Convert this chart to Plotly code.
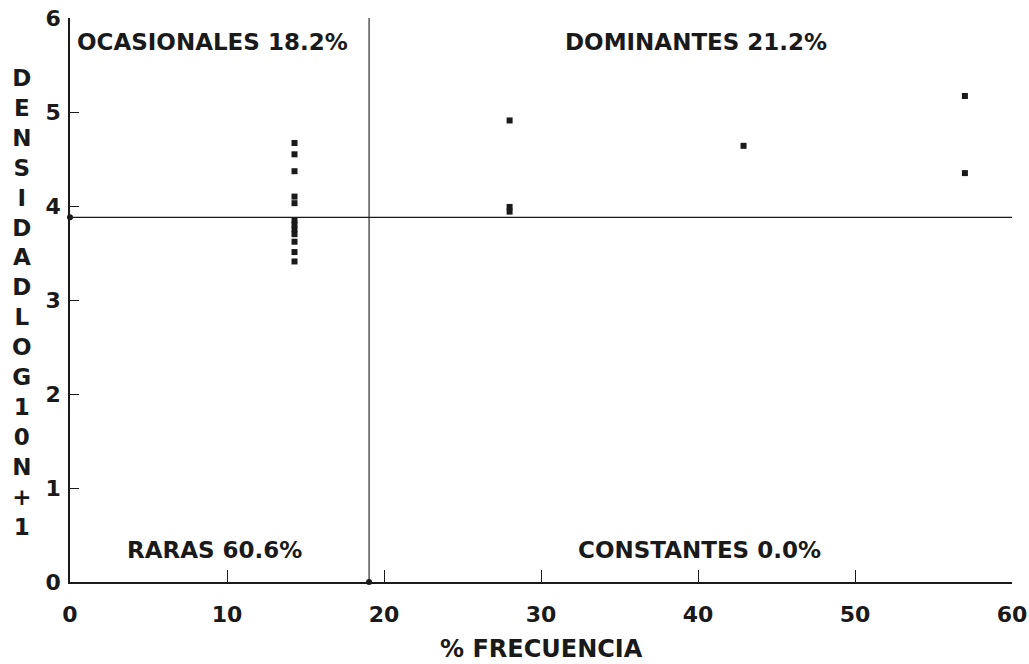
import plotly.graph_objects as go

# Data
frecuencia = [14.3]*12 + [28.0, 28.0, 28.0, 42.9, 57.0, 57.0]
densidad = [4.67, 4.55, 4.37, 4.10, 4.03, 3.85, 3.80, 3.75, 3.70, 3.62, 3.51, 3.41,
            4.91, 3.99, 3.94, 4.64, 5.17, 4.35]
media_frecuencia = 19.05
media_densidad = 3.88
quadrant_labels = ["OCASIONALES 18.2%", "DOMINANTES 21.2%", "RARAS 60.6%", "CONSTANTES 0.0%"]
quadrant_x = [9.05, 39.9, 9.2, 40.1]
quadrant_y = [5.74, 5.74, 0.34, 0.34]
x_ticks = [0, 10, 20, 30, 40, 50, 60]
y_ticks = [0, 1, 2, 3, 4, 5, 6]
y_title = "DENSIDAD LOG10 N+1"
x_title = "% FRECUENCIA"

INK = "#1a1a1a"
FONT = "DejaVu Sans, Liberation Sans, Arial, sans-serif"

fig = go.Figure()
fig.add_trace(go.Scatter(x=frecuencia, y=densidad, mode="markers",
                         marker=dict(symbol="square", size=6, color=INK),
                         showlegend=False, cliponaxis=False))
fig.add_trace(go.Scatter(x=[0, media_frecuencia], y=[media_densidad, 0], mode="markers",
                         marker=dict(symbol="circle", size=6, color=INK),
                         showlegend=False, cliponaxis=False))

fig.add_shape(type="line", xref="x", yref="y", x0=0, x1=60, y0=media_densidad, y1=media_densidad,
              line=dict(color=INK, width=1.3))
fig.add_shape(type="line", xref="x", yref="y", x0=media_frecuencia, x1=media_frecuencia, y0=0, y1=6,
              line=dict(color=INK, width=1.1))

for t, x, y in zip(quadrant_labels, quadrant_x, quadrant_y):
    fig.add_annotation(x=x, y=y, xref="x", yref="y", text=t, showarrow=False,
                       font=dict(family=FONT, size=23, color=INK, weight="bold"))

fig.add_annotation(x=-0.051, y=0.496, xref="paper", yref="paper", xanchor="center", yanchor="middle",
                   text="<br>".join(ch for ch in y_title if ch != " "),
                   showarrow=False, align="center",
                   font=dict(family=FONT, size=23, color=INK, weight="bold"))

fig.add_annotation(x=0.5, y=-0.119, xref="paper", yref="paper", xanchor="center", yanchor="middle",
                   text=x_title, showarrow=False,
                   font=dict(family=FONT, size=24, color=INK, weight="bold"))

fig.update_layout(
    width=1029, height=664,
    margin=dict(l=70, r=17, t=18, b=82),
    plot_bgcolor="white", paper_bgcolor="white",
    font=dict(family=FONT, color=INK),
    xaxis=dict(range=[0, 60], tickvals=x_ticks, ticks="inside", ticklen=12, tickwidth=1.2,
               tickcolor=INK, showline=True, linecolor=INK, linewidth=1.5, showgrid=False,
               zeroline=False, tickfont=dict(size=22, family=FONT, color=INK, weight="bold"),
               ticklabelstandoff=12, automargin=False, ticklabeloverflow="allow"),
    yaxis=dict(range=[0, 6], tickvals=y_ticks, ticks="inside", ticklen=9, tickwidth=1.2,
               tickcolor=INK, showline=True, linecolor=INK, linewidth=1.5, showgrid=False,
               zeroline=False, tickfont=dict(size=22, family=FONT, color=INK, weight="bold"),
               ticklabelstandoff=3, automargin=False, ticklabeloverflow="allow"),
)

fig.write_html("out.html", config={"displayModeBar": False},
               post_script="document.body.style.margin='0';document.body.style.overflow='hidden';")
